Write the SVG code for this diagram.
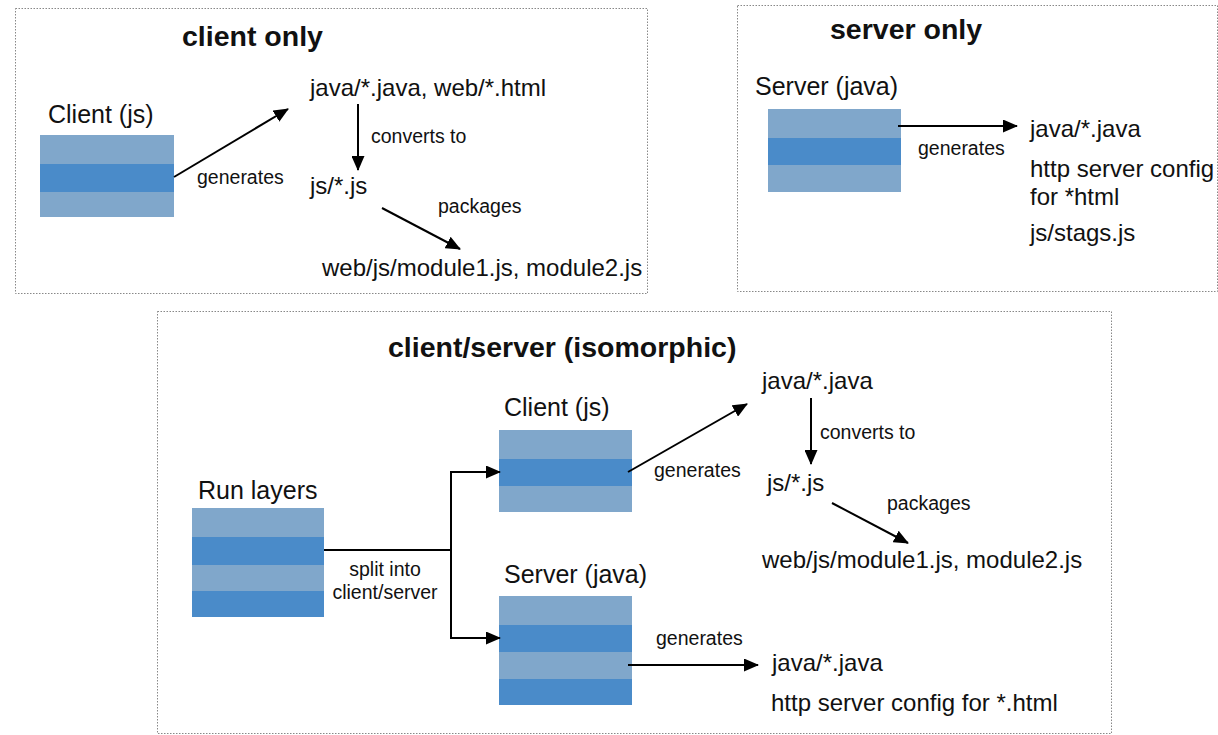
<svg xmlns="http://www.w3.org/2000/svg" width="1218" height="735" viewBox="0 0 1218 735">
<style>
  text { font-family: "Liberation Sans", Arial, Helvetica, sans-serif; fill: #111; }
  .title { font-size: 28.5px; font-weight: bold; }
  .node { font-size: 25px; }
  .out { font-size: 24px; }
  .lbl { font-size: 19.5px; }
  .frame { fill: none; stroke: #888; stroke-width: 1; stroke-dasharray: 1.5 1.5; }
  .lt { fill: #80A7CB; }
  .dk { fill: #4A8BC9; }
  .conn { fill: none; stroke: #000; stroke-width: 2; }
  .arr { marker-end: url(#ah); }
</style>
<defs>
  <marker id="ah" markerUnits="userSpaceOnUse" markerWidth="15" markerHeight="13" refX="14" refY="6.5" orient="auto">
    <path d="M0,0 L15,6.5 L0,13 z" fill="#000"/>
  </marker>
</defs>
<rect width="1218" height="735" fill="#fff"/>

<!-- frames -->
<g id="frame-client-only">
  <rect class="frame" x="15.5" y="8.5" width="632" height="285"/>
  <text class="title" x="182" y="46">client only</text>
</g>
<g id="frame-server-only">
  <rect class="frame" x="737.5" y="5.5" width="480" height="286"/>
  <text class="title" x="830" y="39">server only</text>
</g>
<g id="frame-iso">
  <rect class="frame" x="157.5" y="311.5" width="954" height="422"/>
  <text class="title" x="388" y="357">client/server (isomorphic)</text>
</g>

<!-- client only -->
<g id="co-client">
  <text class="node" x="48" y="123">Client (js)</text>
  <rect class="lt" x="40" y="135" width="134" height="29"/>
  <rect class="dk" x="40" y="164" width="134" height="28"/>
  <rect class="lt" x="40" y="192" width="134" height="25"/>
</g>
<g id="co-java"><text class="out" x="310" y="96">java/*.java, web/*.html</text></g>
<g id="co-js"><text class="out" x="310" y="194">js/*.js</text></g>
<g id="co-modules"><text class="out" x="322" y="276">web/js/module1.js, module2.js</text></g>

<!-- server only -->
<g id="so-server">
  <text class="node" x="755" y="95">Server (java)</text>
  <rect class="lt" x="768" y="109" width="133" height="29"/>
  <rect class="dk" x="768" y="138" width="133" height="27"/>
  <rect class="lt" x="768" y="165" width="133" height="27"/>
</g>
<g id="so-out">
  <text class="out" x="1030" y="137">java/*.java</text>
  <text class="out" x="1030" y="177">http server config</text>
  <text class="out" x="1030" y="205">for *html</text>
  <text class="out" x="1030" y="241">js/stags.js</text>
</g>

<!-- isomorphic -->
<g id="iso-run">
  <text class="node" x="198" y="499">Run layers</text>
  <rect class="lt" x="192" y="508" width="132" height="29"/>
  <rect class="dk" x="192" y="537" width="132" height="28"/>
  <rect class="lt" x="192" y="565" width="132" height="26"/>
  <rect class="dk" x="192" y="591" width="132" height="26"/>
</g>
<g id="iso-client">
  <text class="node" x="504" y="416">Client (js)</text>
  <rect class="lt" x="499" y="430" width="133" height="29"/>
  <rect class="dk" x="499" y="459" width="133" height="27"/>
  <rect class="lt" x="499" y="486" width="133" height="26"/>
</g>
<g id="iso-server">
  <text class="node" x="504" y="583">Server (java)</text>
  <rect class="lt" x="499" y="596" width="133" height="29"/>
  <rect class="dk" x="499" y="625" width="133" height="27"/>
  <rect class="lt" x="499" y="652" width="133" height="27"/>
  <rect class="dk" x="499" y="679" width="133" height="26"/>
</g>
<g id="iso-java"><text class="out" x="762" y="389">java/*.java</text></g>
<g id="iso-js"><text class="out" x="767" y="491">js/*.js</text></g>
<g id="iso-modules"><text class="out" x="762" y="568">web/js/module1.js, module2.js</text></g>
<g id="iso-server-out">
  <text class="out" x="772" y="671">java/*.java</text>
  <text class="out" x="771" y="711">http server config for *.html</text>
</g>

<!-- connectors -->
<g id="connectors">
  <line class="conn arr" x1="174" y1="177" x2="288" y2="109"/>
  <line class="conn arr" x1="358" y1="104" x2="358" y2="170"/>
  <line class="conn arr" x1="382" y1="208" x2="460" y2="249"/>
  <line class="conn arr" x1="898" y1="126" x2="1017" y2="126"/>
  <path class="conn" d="M324,550 H451 M451,472 V638"/>
  <path class="conn arr" d="M450,472 H500"/>
  <path class="conn arr" d="M450,638 H500"/>
  <line class="conn arr" x1="628" y1="472" x2="747" y2="404"/>
  <line class="conn arr" x1="811" y1="398" x2="811" y2="464"/>
  <line class="conn arr" x1="832" y1="503" x2="908" y2="543"/>
  <line class="conn arr" x1="628" y1="665" x2="758" y2="665"/>
  <text class="lbl" x="197" y="184">generates</text>
  <text class="lbl" x="371" y="143">converts to</text>
  <text class="lbl" x="438" y="213">packages</text>
  <text class="lbl" x="918" y="155">generates</text>
  <text class="lbl" x="385" y="576" text-anchor="middle">split into</text>
  <text class="lbl" x="385" y="599" text-anchor="middle">client/server</text>
  <text class="lbl" x="654" y="477">generates</text>
  <text class="lbl" x="820" y="439">converts to</text>
  <text class="lbl" x="887" y="510">packages</text>
  <text class="lbl" x="656" y="645">generates</text>
</g>
</svg>
